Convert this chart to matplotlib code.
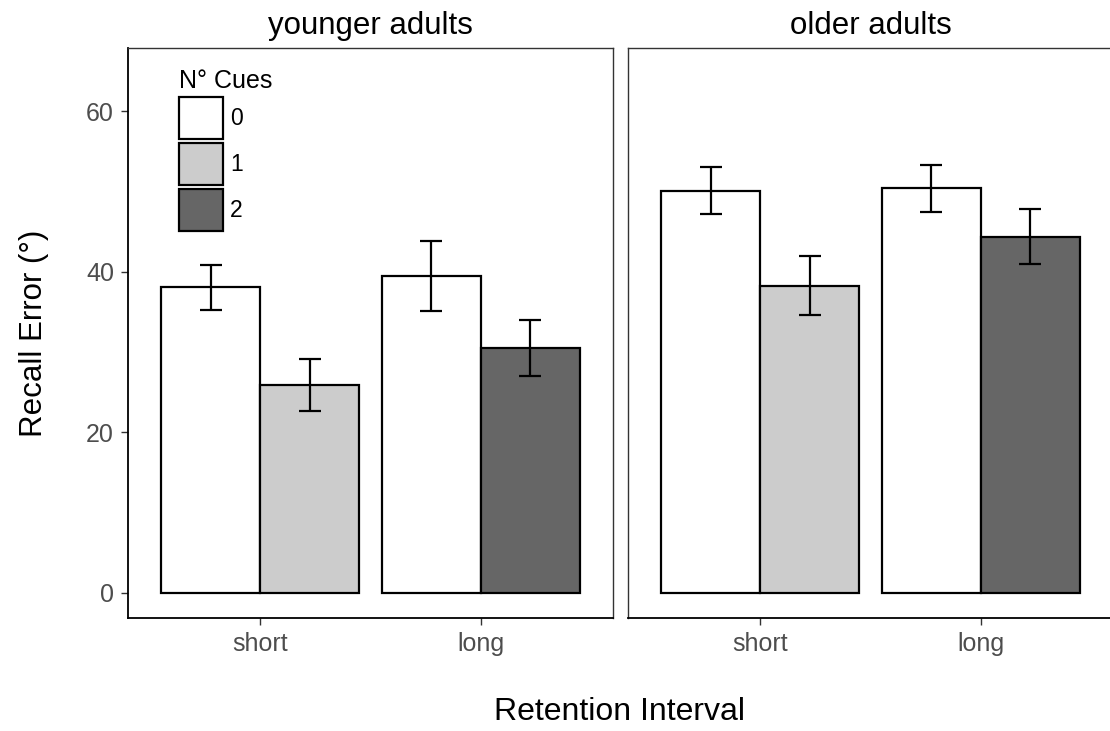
import numpy as np
import matplotlib
matplotlib.use('Agg')
import matplotlib.pyplot as plt
from matplotlib.patches import Patch

plt.rcParams['font.family'] = ['Liberation Sans', 'DejaVu Sans']

# data
panels = ['younger adults', 'older adults']
intervals = ['short', 'long']
cue_levels = ['0', '1', '2']
cue_colors = ['#ffffff', '#cccccc', '#666666']

bar_interval = ['short', 'short', 'long', 'long']
bar_cue = ['0', '1', '0', '2']

young_mean = [38.1, 25.9, 39.5, 30.5]
young_se = [2.8, 3.2, 4.4, 3.5]
old_mean = [50.1, 38.3, 50.4, 44.4]
old_se = [2.95, 3.65, 2.9, 3.4]

means = [young_mean, old_mean]
errs = [young_se, old_se]

W, H = 1110, 731
fig = plt.figure(figsize=(W / 100, H / 100), dpi=100)

bottom = (H - 617.7) / H
height = (617.7 - 48) / H
ax_w = 485 / W
axes = [fig.add_axes([128 / W, bottom, ax_w, height]),
        fig.add_axes([628 / W, bottom, ax_w, height])]

width = 0.45
lw = 1.6
tick_col = '#4d4d4d'

for k, ax in enumerate(axes):
    xs = []
    for i, (iv, cue) in enumerate(zip(bar_interval, bar_cue)):
        base = intervals.index(iv) + 1
        # dodge: first bar of each interval left, second right
        side = -1 if bar_interval.index(iv) == i else 1
        xs.append(base + side * width / 2)
    cols = [cue_colors[cue_levels.index(c)] for c in bar_cue]
    ax.bar(xs, means[k], width=width, color=cols, edgecolor='black',
           linewidth=lw, zorder=2)
    ax.errorbar(xs, means[k], yerr=errs[k], fmt='none', ecolor='black',
                elinewidth=lw, capsize=8, capthick=lw, zorder=3)

    ax.set_xlim(0.4, 2.6)
    ax.set_ylim(-3.1, 67.9)
    ax.set_xticks([1, 2])
    ax.set_xticklabels(intervals)
    ax.set_yticks([0, 20, 40, 60])
    ax.tick_params(axis='both', length=5, width=1.0, color='#333333',
                   labelsize=18, labelcolor=tick_col, pad=5)
    ax.set_title(panels[k], fontsize=22.5, pad=10)

    for s in ['top', 'right']:
        ax.spines[s].set_color('#333333')
        ax.spines[s].set_linewidth(1.0)
    ax.spines['bottom'].set_color('black')
    ax.spines['bottom'].set_linewidth(1.3)
    if k == 0:
        ax.spines['left'].set_color('black')
        ax.spines['left'].set_linewidth(1.3)
        ax.set_ylabel('Recall Error (°)', fontsize=22.5, labelpad=27)
    else:
        ax.spines['left'].set_color('#333333')
        ax.spines['left'].set_linewidth(1.0)
        ax.tick_params(axis='y', left=False, labelleft=False)

fig.text(620 / W, 1 - 712 / H, 'Retention Interval', fontsize=23,
         ha='center', va='center')

handles = [Patch(facecolor=c, edgecolor='black', linewidth=lw) for c in cue_colors]
leg = axes[0].legend(handles, cue_levels, title='N° Cues', loc='upper left',
                     bbox_to_anchor=(179 / W, 1 - 69 / H),
                     bbox_transform=fig.transFigure, frameon=False,
                     fontsize=16.5, title_fontsize=18, borderpad=0,
                     borderaxespad=0, handlelength=1.92, handleheight=2.44,
                     labelspacing=0.175, handletextpad=0.3, alignment='left')

fig.savefig('out.png', dpi=100, facecolor='white')
